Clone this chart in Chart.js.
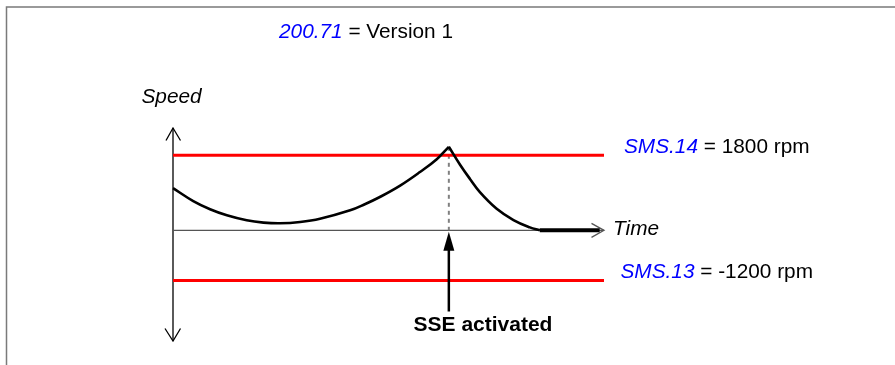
<!DOCTYPE html>
<html><head><meta charset="utf-8">
<script src="https://cdn.jsdelivr.net/npm/chart.js@4.4.0/dist/chart.umd.min.js"></script>
<style>html,body{margin:0;padding:0;background:#fff;}canvas{display:block}</style>
</head><body>
<canvas id="c" width="895" height="365"></canvas>
<script>
// ---- data ----
const riseTime  = [0, 0.47, 0.86, 1.25, 1.71, 2.10, 2.48, 2.95, 3.41, 4.11, 4.45, 4.80, 5.27, 5.73, 6.12, 6.40];
const riseSpeed = [1010, 700, 505, 360, 240, 185, 168, 199, 276, 479, 625, 798, 1071, 1396, 1703, 2000];
const fallTime  = [6.40, 6.66, 6.89, 7.12, 7.51, 7.90, 8.28, 8.51];
const fallSpeed = [2000, 1571, 1231, 915, 516, 246, 70, 0];
const holdTime  = [8.51, 9.9];
const holdSpeed = [0, 0];
const maxLimit = 1800;
const minLimit = -1200;
const limitSpan = [0, 10];
const sseTime = 6.40;
const sseSpeed = 2000;
const xRange = [0, 10];
const yRange = [-2650, 2450];
const titleParam = '200.71', titleText = ' = Version 1';
const maxParam = 'SMS.14', maxText = ' = 1800 rpm';
const minParam = 'SMS.13', minText = ' = -1200 rpm';
const yLabel = 'Speed', xLabel = 'Time', eventLabel = 'SSE activated';

const FONT = '"Liberation Sans", Arial, sans-serif';
const pts = (xs, ys) => xs.map((x, i) => ({x, y: ys[i]}));

function mixedText(ctx, x, y, a, b, size) {
  ctx.textBaseline = 'alphabetic';
  ctx.textAlign = 'left';
  ctx.font = 'italic ' + size + 'px ' + FONT;
  ctx.fillStyle = '#0000ff';
  ctx.fillText(a, x, y);
  const w = ctx.measureText(a).width;
  ctx.font = size + 'px ' + FONT;
  ctx.fillStyle = '#000';
  ctx.fillText(b, x + w, y);
}

const decor = {
  id: 'decor',
  beforeDatasetsDraw(chart) {
    const ctx = chart.ctx, xs = chart.scales.x, ys = chart.scales.y, a = chart.chartArea;
    ctx.save();
    // frame
    ctx.strokeStyle = '#7a7a7a'; ctx.lineWidth = 1.5;
    ctx.beginPath(); ctx.moveTo(6.5, 365); ctx.lineTo(6.5, 7); ctx.lineTo(895, 7); ctx.stroke();
    // vertical speed axis
    const x0 = xs.getPixelForValue(xRange[0]);
    ctx.strokeStyle = '#000'; ctx.lineWidth = 1.3;
    ctx.beginPath(); ctx.moveTo(x0, a.top); ctx.lineTo(x0, a.bottom); ctx.stroke();
    ctx.beginPath();
    ctx.moveTo(x0 - 7, a.top + 12.5); ctx.lineTo(x0, a.top); ctx.lineTo(x0 + 7.5, a.top + 12.5);
    ctx.moveTo(x0 - 8, a.bottom - 12.5); ctx.lineTo(x0, a.bottom); ctx.lineTo(x0 + 7.5, a.bottom - 12.5);
    ctx.stroke();
    // time axis
    const y0 = ys.getPixelForValue(0);
    const xe = xs.getPixelForValue(xRange[1]);
    ctx.strokeStyle = '#555'; ctx.lineWidth = 1.3;
    ctx.beginPath(); ctx.moveTo(x0, y0); ctx.lineTo(xe, y0); ctx.stroke();
    ctx.beginPath(); ctx.moveTo(xe - 12.5, y0 - 7); ctx.lineTo(xe, y0); ctx.lineTo(xe - 12.5, y0 + 7); ctx.stroke();
    ctx.restore();
  },
  afterDraw(chart) {
    const ctx = chart.ctx, xs = chart.scales.x, ys = chart.scales.y;
    ctx.save();
    const S = 20.8;
    mixedText(ctx, 279, 37.7, titleParam, titleText, S);
    mixedText(ctx, 624, ys.getPixelForValue(maxLimit) - 2, maxParam, maxText, S);
    mixedText(ctx, 620.5, ys.getPixelForValue(minLimit) - 2.5, minParam, minText, S);
    ctx.fillStyle = '#000';
    ctx.font = 'italic ' + S + 'px ' + FONT;
    ctx.fillText(yLabel, 141.5, 102.7);
    ctx.fillText(xLabel, xs.getPixelForValue(xRange[1]) + 9, ys.getPixelForValue(0) + 4.5);
    // SSE arrow
    const xa = xs.getPixelForValue(sseTime), ya = ys.getPixelForValue(0) + 1.5;
    ctx.strokeStyle = '#000'; ctx.lineWidth = 2.5;
    ctx.beginPath(); ctx.moveTo(xa, 311.5); ctx.lineTo(xa, ya + 15); ctx.stroke();
    ctx.beginPath(); ctx.moveTo(xa, ya); ctx.lineTo(xa - 5.5, ya + 19); ctx.lineTo(xa + 5.5, ya + 19); ctx.closePath(); ctx.fill();
    ctx.font = 'bold 21px ' + FONT;
    ctx.textAlign = 'center';
    ctx.fillText(eventLabel, 483, 331);
    ctx.restore();
  }
};

new Chart(document.getElementById('c'), {
  type: 'line',
  data: {
    datasets: [
      {data: pts(riseTime, riseSpeed), borderColor: '#000', borderWidth: 2.6, tension: 0.4, borderJoinStyle: 'round', pointRadius: 0, clip: false, order: 1},
      {data: pts(fallTime, fallSpeed), borderColor: '#000', borderWidth: 2.6, tension: 0.4, borderJoinStyle: 'round', pointRadius: 0, clip: false, order: 1},
      {data: pts(holdTime, holdSpeed), borderColor: '#000', borderWidth: 4, pointRadius: 0, clip: false, order: 1},
      {data: pts(limitSpan, [maxLimit, maxLimit]), borderColor: '#ff0000', borderWidth: 3, pointRadius: 0, clip: false, order: 2},
      {data: pts(limitSpan, [minLimit, minLimit]), borderColor: '#ff0000', borderWidth: 3, pointRadius: 0, clip: false, order: 2},
      {data: pts([sseTime, sseTime], [sseSpeed, 0]), borderColor: '#808080', borderWidth: 2, borderDash: [4, 4], pointRadius: 0, clip: false, order: 3}
    ]
  },
  options: {
    responsive: false,
    animation: false,
    layout: {padding: {left: 173, right: 291, top: 128, bottom: 24}},
    plugins: {legend: {display: false}, tooltip: {enabled: false}, title: {display: false}},
    scales: {
      x: {type: 'linear', min: xRange[0], max: xRange[1], display: false},
      y: {type: 'linear', min: yRange[0], max: yRange[1], display: false}
    }
  },
  plugins: [decor]
});
</script>
</body></html>
